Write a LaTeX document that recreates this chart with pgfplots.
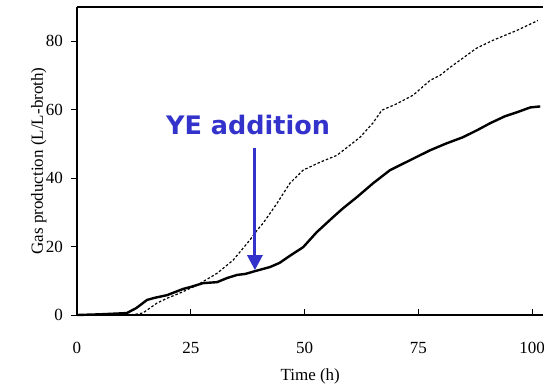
\documentclass[border=0pt]{standalone}
\usepackage{pgfplots}
\pgfplotsset{compat=1.18}
\usetikzlibrary{arrows.meta}
\usepackage{fontspec}
\setmainfont{Liberation Serif}
\newfontfamily\annofont{DejaVu Sans}
\definecolor{annoblue}{RGB}{51,51,204}

\begin{document}
\begin{tikzpicture}
\begin{axis}[
  at={(0,0)}, anchor=south west,
  scale only axis, width=466.4pt, height=308.25pt,
  xmin=0, xmax=102.5, ymin=0, ymax=90,
  axis x line*=bottom, axis y line*=left,
  axis line style={line width=2pt, black},
  xtick={0,25,50,75,100}, ytick={0,20,40,60,80},
  tick align=inside, major tick length=6pt,
  tick style={line width=1pt, black},
  ytick style={xshift=-6pt},
  /pgf/number format/assume math mode=true,
  ticklabel style={font=\fontsize{17}{20}\selectfont, inner sep=0pt},
  xticklabel style={anchor=base, yshift=-38pt},
  yticklabel style={anchor=east, xshift=-14pt},
  label style={font=\fontsize{17}{20}\selectfont, inner sep=0pt},
  xlabel={Time (h)},
  ylabel={Gas production (L/L-broth)},
  xlabel style={at={(axis description cs:0.5,0)}, anchor=base, yshift=-65pt},
  ylabel style={at={(axis description cs:0,0.5)}, anchor=base, rotate=0, yshift=34pt},
  clip=false,
]
% culture with yeast extract added at about 39 h
\addplot[black, line width=2.4pt, line join=round] coordinates {
  (0,0) (5,0.2) (10,0.5) (11,0.6) (13,2) (15.4,4.4) (17,5) (19.8,5.8)
  (23.3,7.6) (25,8.2) (27.7,9.3) (30.8,9.6) (33,10.8) (35.2,11.7) (37,12)
  (39.1,12.8) (42.4,14.0) (44.5,15.2) (46.8,17.3) (49.7,19.8) (52.7,24.2)
  (56.3,28.6) (58.5,31.2) (61.5,34.4) (65.1,38.5) (68.8,42.3) (73.2,45.2)
  (77.6,48.1) (81,50) (84.8,51.9) (88,54) (90.8,56.0) (94,58) (96.7,59.2)
  (99.6,60.6) (101.8,60.9)
};
% comparison culture
\addplot[black, line width=1.2pt, dash pattern=on 2.5pt off 2pt] coordinates {
  (0,0) (12,0) (14.5,0.6) (17.6,3.5) (20,5) (22.6,6.4) (26.4,8.7)
  (30.8,12.2) (34.3,16) (38,21.9) (39.6,24.8) (40.9,26.8) (44,32.7)
  (46.8,38.5) (49.7,42.3) (53.4,44.6) (57.1,46.6) (60,49.6) (62.2,51.9)
  (65,56) (67,59.8) (70,61.5) (73.9,64.2) (77.6,68.5) (79.8,70) (82,72.3)
  (87.8,77.9) (91.4,80.2) (96.7,83.1) (101.3,86)
};
% top border
\draw[line width=2pt, black] (rel axis cs:0,1) -- (rel axis cs:1,1);
% annotation
\node[anchor=base, text=annoblue, inner sep=0pt,
      font=\annofont\bfseries\fontsize{25.5}{30}\selectfont]
  at (axis cs:37.6,52.8) {YE addition};
\draw[annoblue, line width=3pt,
      -{Triangle[width=15pt,length=15pt]}]
  (axis cs:39.1,48.8) -- (axis cs:39.1,13.1);
\end{axis}
\pgfresetboundingbox
\path (-77pt,-69pt) rectangle (467pt,315pt);
\end{tikzpicture}
\end{document}
